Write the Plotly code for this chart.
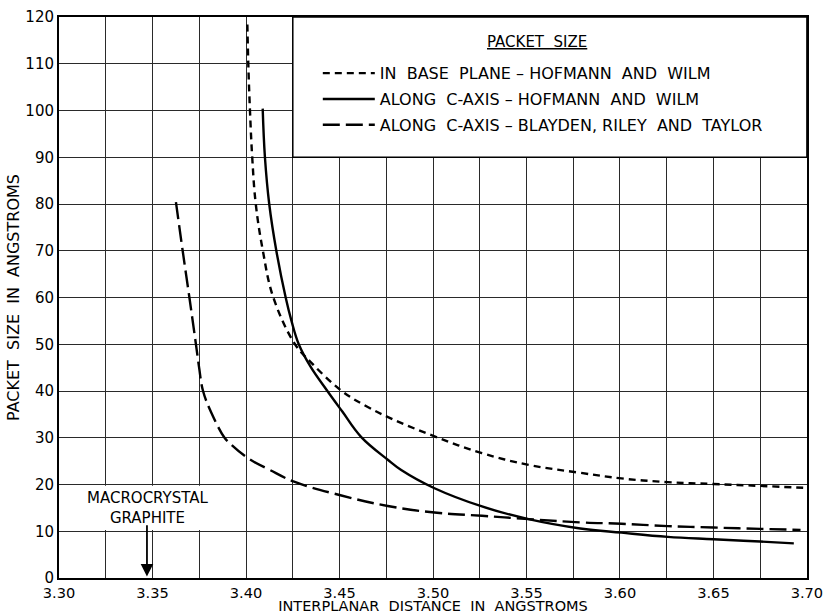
import plotly.graph_objects as go

# ---- data ----
base_x = [3.4007, 3.4012, 3.4021, 3.4033, 3.4052, 3.409, 3.4146, 3.4262, 3.4343, 3.4512,
          3.4646, 3.4771, 3.5008, 3.5262, 3.5511, 3.5788, 3.6008, 3.6256, 3.65, 3.675, 3.698]
base_y = [118.4, 110, 100, 90, 80, 70, 60, 50, 46.3, 40,
          36.7, 34.2, 30.3, 26.7, 24.2, 22.5, 21.3, 20.5, 20.1, 19.7, 19.3]

caxis_hw_x = [3.4089, 3.4101, 3.4124, 3.4162, 3.4212, 3.4243, 3.4282, 3.4345, 3.4435, 3.4515,
              3.4615, 3.4758, 3.483, 3.5008, 3.5262, 3.5511, 3.5788, 3.6008, 3.6256, 3.65, 3.675, 3.693]
caxis_hw_y = [100.4, 90, 80, 70, 60, 55, 50, 45.2, 40, 35.6,
              30.2, 25.3, 23.1, 19.2, 15.3, 12.6, 10.6, 9.7, 8.8, 8.3, 7.8, 7.4]

caxis_brt_x = [3.3625, 3.3661, 3.3697, 3.3732, 3.3749, 3.377, 3.3815, 3.3885, 3.3914, 3.4015,
               3.4128, 3.4257, 3.4505, 3.4758, 3.5008, 3.5262, 3.5511, 3.5788, 3.6008, 3.6256,
               3.65, 3.675, 3.6966]
caxis_brt_y = [80.4, 70, 60, 50, 45, 40, 35.3, 30, 28.8, 25.5,
               23.1, 20.6, 17.7, 15.4, 14.0, 13.3, 12.6, 11.9, 11.6, 11.1,
               10.8, 10.5, 10.3]

series_names = ["IN  BASE  PLANE – HOFMANN  AND  WILM",
                "ALONG  C-AXIS – HOFMANN  AND  WILM",
                "ALONG  C-AXIS – BLAYDEN, RILEY  AND  TAYLOR"]

x_grid = [round(3.30 + 0.025 * i, 3) for i in range(17)]
x_labels = [f"{v:.2f}" if i % 2 == 0 else "" for i, v in enumerate(x_grid)]
y_ticks = list(range(0, 121, 10))

graphite_x = 3.347
legend_title = "PACKET  SIZE"

FONT = "DejaVu Sans"

fig = go.Figure()
styles = ["7px,5px", "solid", "17px,6px"]
data = [(base_x, base_y), (caxis_hw_x, caxis_hw_y), (caxis_brt_x, caxis_brt_y)]
for i, ((xs, ys), name, dash) in enumerate(zip(data, series_names, styles)):
    fig.add_trace(go.Scatter(
        x=xs, y=ys, mode="lines", name=name, legendgroup=f"g{i}",
        line=dict(color="black", width=2.4, dash=dash, shape="spline", smoothing=1.1),
        hoverinfo="skip"))

# legend box
fig.add_shape(type="rect", xref="x", yref="y", x0=3.425, x1=3.70, y0=90, y1=120,
              fillcolor="white", line=dict(color="black", width=1.5), layer="above")
# white patch behind the graphite label
fig.add_shape(type="rect", xref="x", yref="y", x0=3.3015, x1=3.386, y0=10.25, y1=19.75,
              fillcolor="white", line=dict(width=0), layer="above")

fig.add_annotation(x=3.3475, y=14.9, xref="x", yref="y",
                   text="MACROCRYSTAL<br>GRAPHITE", showarrow=False,
                   font=dict(family=FONT, size=15, color="black"), align="center")
fig.add_annotation(x=graphite_x, y=0.3, ax=graphite_x, ay=11.6, xref="x", yref="y",
                   axref="x", ayref="y", text="", showarrow=True, arrowhead=2,
                   arrowsize=1.4, arrowwidth=1.8, arrowcolor="black")

# legend title (underlined) placed inside the box
fig.add_annotation(x=3.5556, y=114.6, xref="x", yref="y", text=f"<u>{legend_title}</u>",
                   showarrow=False, font=dict(family=FONT, size=15, color="black"))

axis_common = dict(showline=True, linecolor="black", linewidth=2, mirror=True,
                   showgrid=True, gridcolor="#2a2a2a", gridwidth=1.1, zeroline=False,
                   ticks="", automargin=False, ticklabeloverflow="allow")

fig.update_xaxes(range=[3.29995, 3.70005], tickmode="array", tickvals=x_grid, ticktext=x_labels,
                 tickfont=dict(family=FONT, size=14.6, color="black"),
                 title=dict(text="INTERPLANAR  DISTANCE  IN  ANGSTROMS", standoff=11,
                            font=dict(family=FONT, size=14.5, color="black")),
                 **axis_common)
fig.update_yaxes(range=[0, 120], tickmode="array", tickvals=y_ticks,
                 ticktext=[str(v) for v in y_ticks],
                 tickfont=dict(family=FONT, size=15, color="black"),
                 title=dict(text="PACKET  SIZE  IN  ANGSTROMS", standoff=2,
                            font=dict(family=FONT, size=16, color="black")),
                 **axis_common)

fig.update_layout(
    width=823, height=614,
    margin=dict(l=59, r=16, t=17, b=36, autoexpand=False),
    paper_bgcolor="white", plot_bgcolor="white",
    font=dict(family=FONT, color="black"),
    showlegend=True,
    legend=dict(x=0.346, y=0.93, xanchor="left", yanchor="top",
                bgcolor="rgba(0,0,0,0)", borderwidth=0,
                traceorder="grouped", tracegroupgap=2, itemwidth=52,
                font=dict(family=FONT, size=16, color="black")),
)

# remove the default page margin so the 823x614 figure fills the window exactly
fig.write_html("out.html", config={"displayModeBar": False},
               post_script="document.body.style.margin='0';document.body.style.overflow='hidden';")
